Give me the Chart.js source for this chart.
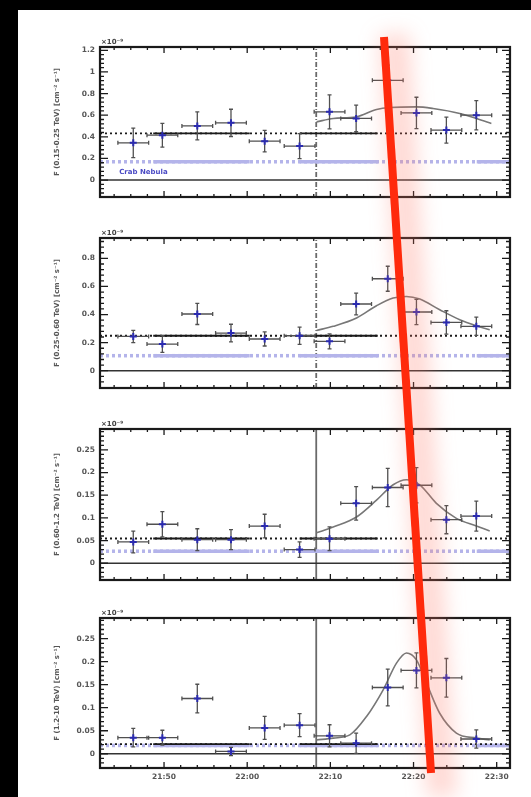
<!DOCTYPE html>
<html>
<head>
<meta charset="utf-8">
<script src="https://cdn.jsdelivr.net/npm/chart.js@4.4.0/dist/chart.umd.min.js"></script>
<style>
  html, body { margin: 0; padding: 0; background: #000; }
  body { width: 531px; height: 797px; position: relative; overflow: hidden; }
  #sheet { position: absolute; left: 18px; top: 10px; width: 513px; height: 787px; background: #fff; }
  .panel { position: absolute; left: 18px; filter: blur(0.7px); }
  #marker { position: absolute; left: 0; top: 0; pointer-events: none; }
</style>
</head>
<body>
<div id="sheet"></div>
<canvas id="p1" class="panel"></canvas>
<canvas id="p2" class="panel"></canvas>
<canvas id="p3" class="panel"></canvas>
<canvas id="p4" class="panel"></canvas>
<canvas id="marker" width="531" height="797"></canvas>
<script>
// time is in minutes after 21:00 UTC
const timeMin = 42.3, timeMax = 91.6;
const timeTickValues = [50, 60, 70, 80, 90];
const timeTickLabels = ['21:50', '22:00', '22:10', '22:20', '22:30'];
const flareStart = 68.3;

// light curve bins (same for all four energy bands)
const binTimes = [46.3, 49.8, 54.0, 58.05, 62.1, 66.3, 69.9, 73.1, 76.9, 80.35, 83.95, 87.55];
const binHalfWidth = [1.85, 1.85, 1.85, 1.85, 1.85, 1.85, 1.85, 1.85, 1.85, 1.85, 1.85, 1.85];

// F (0.15-0.25 TeV), x1e-9
const flux1 = [0.344, 0.415, 0.501, 0.529, 0.36, 0.314, 0.631, 0.57, 0.923, 0.621, 0.462, 0.60];
const fluxErr1 = [0.137, 0.11, 0.13, 0.126, 0.1, 0.115, 0.157, 0.123, 0.14, 0.145, 0.12, 0.135];
const fitTime1 = [68.34, 70.34, 73.06, 75.55, 77.15, 80.35, 82.35, 85.56, 89.36];
const fitFlux1 = [0.538, 0.57, 0.584, 0.653, 0.671, 0.677, 0.662, 0.616, 0.523];

// F (0.25-0.60 TeV)
const flux2 = [0.244, 0.19, 0.404, 0.268, 0.226, 0.249, 0.209, 0.475, 0.655, 0.418, 0.344, 0.316];
const fluxErr2 = [0.044, 0.06, 0.075, 0.063, 0.05, 0.062, 0.053, 0.077, 0.089, 0.09, 0.083, 0.065];
const fitTime2 = [68.34, 70.34, 73.15, 75.55, 77.55, 79.15, 80.75, 83.15, 85.56, 87.56, 89.16];
const fitFlux2 = [0.287, 0.316, 0.375, 0.463, 0.518, 0.529, 0.51, 0.434, 0.363, 0.32, 0.292];

// F (0.60-1.2 TeV)
const flux3 = [0.047, 0.086, 0.052, 0.052, 0.082, 0.030, 0.054, 0.132, 0.167, 0.172, 0.096, 0.104];
const fluxErr3 = [0.024, 0.028, 0.024, 0.022, 0.026, 0.017, 0.026, 0.037, 0.042, 0.039, 0.031, 0.033];
const fitTime3 = [68.34, 70.34, 73.15, 75.55, 77.55, 79.15, 80.75, 82.75, 85.15, 87.56, 89.16];
const fitFlux3 = [0.067, 0.080, 0.102, 0.139, 0.173, 0.184, 0.173, 0.132, 0.099, 0.082, 0.071];

// F (1.2-10 TeV)
const flux4 = [0.035, 0.035, 0.120, 0.005, 0.056, 0.062, 0.039, 0.023, 0.144, 0.181, 0.165, 0.032];
const fluxErr4 = [0.020, 0.016, 0.031, 0.009, 0.025, 0.025, 0.024, 0.022, 0.040, 0.038, 0.042, 0.020];
const fitTime4 = [68.34, 70.34, 72.34, 74.35, 76.35, 77.95, 79.15, 80.35, 81.55, 83.15, 85.15, 87.56, 89.16];
const fitFlux4 = [0.030, 0.034, 0.041, 0.081, 0.139, 0.197, 0.219, 0.204, 0.154, 0.088, 0.045, 0.034, 0.030];

// constant pre-flare level and Crab Nebula flux per band
const preFlareLevel = [0.431, 0.249, 0.0545, 0.021];
const crabLevel = [0.169, 0.107, 0.0265, 0.018];

const yTicksA = [0, 0.2, 0.4, 0.6, 0.8, 1, 1.2];
const yLabelsA = ['0', '0.2', '0.4', '0.6', '0.8', '1', '1.2'];
const yTicksB = [0, 0.05, 0.1, 0.15, 0.2, 0.25];
const yLabelsB = ['0', '0.05', '0.1', '0.15', '0.2', '0.25'];

const solidSpans = [[48.7, 60.3], [66.3, 75.7]];
const crabSpans = [[48.7, 60.3], [66.3, 75.7], [87.6, 91.6]];

const panels = [
  { id: 'p1', top: 27, plotH: 150, axisH: 0, bottom: 10, flux: flux1, err: fluxErr1, fitT: fitTime1, fitF: fitFlux1,
    yMin: -0.157, yMax: 1.231, yTicks: yTicksA, yLabels: yLabelsA, yMinor: 0.04,
    title: 'F (0.15-0.25 TeV) [cm\u207B\u00B2 s\u207B\u00B9]', onsetDash: [5, 2, 1, 2], crabText: true },
  { id: 'p2', top: 218, plotH: 150, axisH: 0, bottom: 10, flux: flux2, err: fluxErr2, fitT: fitTime2, fitF: fitFlux2,
    yMin: -0.123, yMax: 0.945, yTicks: yTicksA, yLabels: yLabelsA, yMinor: 0.04,
    title: 'F (0.25-0.60 TeV) [cm\u207B\u00B2 s\u207B\u00B9]', onsetDash: [5, 2, 1, 2] },
  { id: 'p3', top: 409, plotH: 151, axisH: 0, bottom: 10, flux: flux3, err: fluxErr3, fitT: fitTime3, fitF: fitFlux3,
    yMin: -0.037, yMax: 0.296, yTicks: yTicksB, yLabels: yLabelsB, yMinor: 0.01,
    title: 'F (0.60-1.2 TeV) [cm\u207B\u00B2 s\u207B\u00B9]', onsetDash: [] },
  { id: 'p4', top: 598, plotH: 150, axisH: 22, bottom: 7, flux: flux4, err: fluxErr4, fitT: fitTime4, fitF: fitFlux4,
    yMin: -0.031, yMax: 0.295, yTicks: yTicksB, yLabels: yLabelsB, yMinor: 0.01,
    title: 'F (1.2-10 TeV) [cm\u207B\u00B2 s\u207B\u00B9]', onsetDash: [], timeLabels: true }
];

Chart.defaults.font.family = 'DejaVu Sans';
Chart.defaults.color = '#555';

function spanData(spans, level) {
  const out = [];
  spans.forEach((s, i) => {
    out.push({ x: s[0], y: level }, { x: s[1], y: level });
    if (i < spans.length - 1) out.push({ x: (s[1] + spans[i + 1][0]) / 2, y: null });
  });
  return out;
}

function rootStyle(p) {
  return {
    id: 'rootStyle',
    beforeDatasetDraw(chart, args) {
      if (args.index !== 0) return;
      const { ctx, scales: { x, y } } = chart;
      ctx.save();
      ctx.strokeStyle = '#505050';
      ctx.lineWidth = 1.3;
      ctx.beginPath();
      binTimes.forEach((t, i) => {
        const px = x.getPixelForValue(t), py = y.getPixelForValue(p.flux[i]);
        const x0 = x.getPixelForValue(t - binHalfWidth[i]), x1 = x.getPixelForValue(t + binHalfWidth[i]);
        const y0 = y.getPixelForValue(p.flux[i] - p.err[i]), y1 = y.getPixelForValue(p.flux[i] + p.err[i]);
        ctx.moveTo(x0, py); ctx.lineTo(x1, py);
        ctx.moveTo(px, y0); ctx.lineTo(px, y1);
        ctx.moveTo(x0, py - 2); ctx.lineTo(x0, py + 2);
        ctx.moveTo(x1, py - 2); ctx.lineTo(x1, py + 2);
        ctx.moveTo(px - 2, y0); ctx.lineTo(px + 2, y0);
        ctx.moveTo(px - 2, y1); ctx.lineTo(px + 2, y1);
      });
      ctx.stroke();
      ctx.restore();
    },
    afterDraw(chart) {
      const { ctx, chartArea: a, scales: { x, y } } = chart;
      ctx.save();
      ctx.strokeStyle = '#1a1a1a';
      ctx.lineWidth = 2.2;
      ctx.strokeRect(a.left, a.top, a.right - a.left, a.bottom - a.top);
      ctx.lineWidth = 1.3;
      ctx.beginPath();
      for (let t = 44; t <= 91; t += 2) {
        const px = x.getPixelForValue(t);
        const len = t % 10 === 0 ? 6 : 3;
        ctx.moveTo(px, a.bottom); ctx.lineTo(px, a.bottom - len);
        ctx.moveTo(px, a.top); ctx.lineTo(px, a.top + len);
      }
      const k0 = Math.ceil(y.min / p.yMinor);
      for (let k = k0; k * p.yMinor <= y.max; k++) {
        const py = y.getPixelForValue(k * p.yMinor);
        const len = k % 5 === 0 ? 8 : 4;
        ctx.moveTo(a.left, py); ctx.lineTo(a.left + len, py);
        ctx.moveTo(a.right, py); ctx.lineTo(a.right - len, py);
      }
      ctx.stroke();
      ctx.fillStyle = '#444';
      ctx.font = 'bold 7px "DejaVu Sans"';
      ctx.textBaseline = 'alphabetic';
      ctx.fillText('\u00D710\u207B\u2079', a.left + 1, a.top - 3);
      if (p.crabText) {
        ctx.fillStyle = '#4a4ac4';
        ctx.textBaseline = 'middle';
        ctx.fillText('Crab Nebula', x.getPixelForValue(44.6), y.getPixelForValue(0.075));
      }
      ctx.restore();
    }
  };
}

panels.forEach((p, n) => {
  const canvas = document.getElementById(p.id);
  const h = 20 + p.plotH + p.axisH + p.bottom;
  canvas.width = 513;
  canvas.height = h;
  canvas.style.top = p.top + 'px';

  const base = preFlareLevel[n], crab = crabLevel[n];
  const flat = { type: 'line', pointRadius: 0, fill: false, spanGaps: false };
  const shownTicks = p.yTicks.filter(v => v <= p.yMax);

  new Chart(canvas, {
    type: 'line',
    data: {
      datasets: [
        { type: 'scatter', data: binTimes.map((t, i) => ({ x: t, y: p.flux[i] })), pointStyle: 'cross',
          pointRadius: 3.5, borderColor: '#2b2bb0', backgroundColor: '#2b2bb0', borderWidth: 2, order: 0 },
        { type: 'line', data: p.fitT.map((t, i) => ({ x: t, y: p.fitF[i] })), borderColor: '#777',
          borderWidth: 1.6, pointRadius: 0, cubicInterpolationMode: 'monotone', order: 1 },
        { ...flat, data: [{ x: timeMin, y: base }, { x: timeMax, y: base }], borderColor: '#1a1a1a',
          borderWidth: 1.8, borderDash: [2, 3], order: 2 },
        { ...flat, data: spanData(solidSpans, base), borderColor: '#1a1a1a', borderWidth: 1.8, order: 2 },
        { ...flat, data: [{ x: timeMin, y: crab }, { x: timeMax, y: crab }], borderColor: '#b4b4ea',
          borderWidth: 3.5, borderDash: [3, 3], order: 3 },
        { ...flat, data: spanData(crabSpans, crab), borderColor: '#b4b4ea', borderWidth: 3.5, order: 3 },
        { ...flat, data: [{ x: timeMin, y: 0 }, { x: timeMax, y: 0 }], borderColor: '#333', borderWidth: 1.6, order: 4 },
        { ...flat, data: [{ x: flareStart, y: p.yMin }, { x: flareStart, y: p.yMax }], borderColor: '#6a6a6a',
          borderWidth: 1.8, borderDash: p.onsetDash, order: 4 }
      ]
    },
    options: {
      responsive: false,
      animation: false,
      events: [],
      layout: { padding: { left: 26, right: 21, top: 20, bottom: p.bottom } },
      plugins: { legend: { display: false }, tooltip: { enabled: false } },
      scales: {
        x: {
          type: 'linear', min: timeMin, max: timeMax,
          grid: { display: false, drawTicks: false }, border: { display: false },
          afterBuildTicks: s => { s.ticks = timeTickValues.map(v => ({ value: v })); },
          afterFit: s => { s.height = p.axisH; },
          ticks: { display: !!p.timeLabels, padding: 5, maxRotation: 0, color: '#555',
                   font: { size: 7.5, weight: 'bold' }, callback: (v, i) => timeTickLabels[i] }
        },
        y: {
          type: 'linear', min: p.yMin, max: p.yMax,
          grid: { display: false, drawTicks: false }, border: { display: false },
          afterBuildTicks: s => { s.ticks = shownTicks.map(v => ({ value: v })); },
          afterFit: s => { s.width = 56; },
          ticks: { padding: 5, color: '#555', font: { size: 7.5, weight: 'bold' }, callback: (v, i) => p.yLabels[i] },
          title: { display: true, text: p.title, color: '#555', font: { size: 7, weight: 'bold' }, padding: { top: 9, bottom: 0 } }
        }
      }
    },
    plugins: [rootStyle(p)]
  });
});

// red slanted marker drawn over the figure
const mk = document.getElementById('marker').getContext('2d');
mk.save();
mk.filter = 'blur(10px)';
mk.strokeStyle = 'rgba(255, 120, 100, 0.28)';
mk.lineWidth = 30;
mk.beginPath();
mk.moveTo(394, 34);
mk.lineTo(442, 797);
mk.stroke();
mk.restore();
mk.save();
mk.filter = 'blur(0.6px)';
mk.strokeStyle = '#ff2a0c';
mk.lineWidth = 8;
mk.beginPath();
mk.moveTo(384, 37);
mk.lineTo(431, 773);
mk.stroke();
mk.restore();
</script>
</body>
</html>
